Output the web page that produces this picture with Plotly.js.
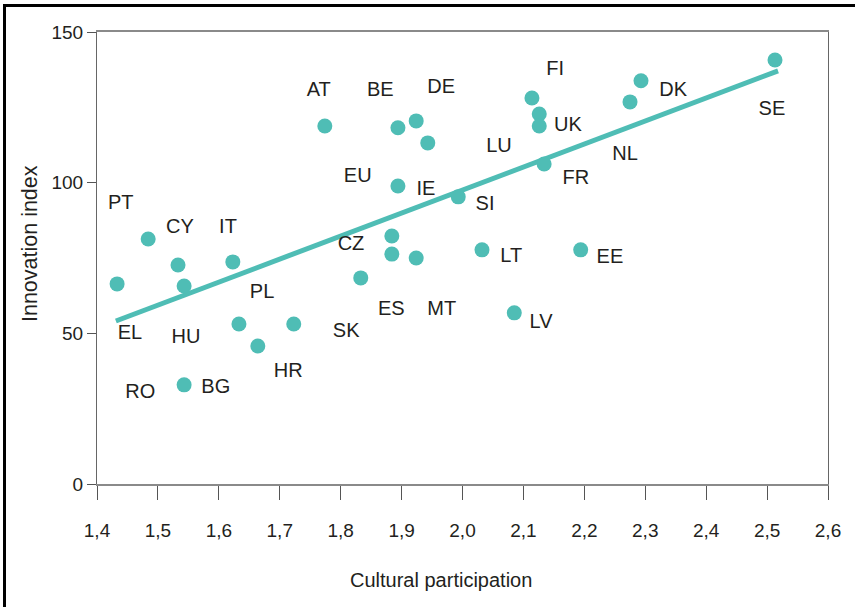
<!DOCTYPE html>
<html>
<head>
<meta charset="utf-8">
<script src="https://cdn.plot.ly/plotly-3.0.1.min.js"></script>
<style>
  html, body { margin: 0; padding: 0; background: #fff; }
  #wrap { position: relative; width: 855px; height: 607px; overflow: hidden; }
  #chart { width: 855px; height: 607px; }
  #frame { position: absolute; left: 3px; top: 4px; width: 860px; height: 610px;
           border-left: 3px solid #000; border-top: 3px solid #000; pointer-events: none; }
</style>
</head>
<body>
<div id="wrap">
  <div id="chart"></div>
  <div id="frame"></div>
</div>
<script>
// Country points (Cultural participation vs Innovation index)
const countries = ["EL","PT","CY","HU","IT","PL","HR","BG","SK","CZ","ES","MT","RO","LT","EE","LV",
                   "AT","BE","DE","LU","FI","UK","NL","FR","EU","SI","SE","DK","IE"];
const culturalParticipation = [1.433,1.484,1.533,1.543,1.623,1.633,1.664,1.543,1.723,1.833,1.884,1.884,1.924,2.032,2.194,2.085,
                               1.774,1.894,1.924,1.943,2.114,2.126,2.126,2.134,1.894,1.993,2.513,2.293,2.275];
const innovationIndex = [66.4,81.3,72.7,65.7,73.7,53.1,45.8,32.9,53.1,68.4,82.3,76.3,75.0,77.7,77.7,56.8,
                         118.8,118.2,120.5,113.2,128.1,122.8,118.8,106.2,98.9,95.3,140.7,133.8,126.8];

// Label texts and where they sit on the chart (data coordinates)
const labelText = ["AT","BE","DE","FI","DK","SE","UK","LU","NL","FR","EU","IE","SI","CZ","LT","EE",
                   "PT","CY","IT","PL","EL","HU","SK","ES","MT","LV","HR","RO","BG"];
const labelX = [1.764,1.865,1.965,2.152,2.346,2.508,2.173,2.060,2.267,2.186,1.828,1.940,2.037,1.817,2.080,2.242,
                1.439,1.536,1.615,1.671,1.454,1.546,1.809,1.883,1.966,2.129,1.714,1.471,1.595];
const labelY = [130.4,130.4,131.4,137.4,130.4,124.1,118.8,111.8,109.2,101.2,101.9,97.6,92.6,79.3,75.3,75.0,
                92.9,85.0,85.0,63.4,49.8,48.5,50.4,57.8,57.8,53.4,37.2,30.2,31.9];

// Trend line end points
const trendX = [1.431, 2.518];
const trendY = [54.1, 137.1];

// Axis ticks and titles
const xTickVals = [1.4,1.5,1.6,1.7,1.8,1.9,2.0,2.1,2.2,2.3,2.4,2.5,2.6];
const xTickText = ["1,4","1,5","1,6","1,7","1,8","1,9","2,0","2,1","2,2","2,3","2,4","2,5","2,6"];
const yTickVals = [0,50,100,150];
const xTitle = "Cultural participation";
const yTitle = "Innovation index";

const teal = "#4fbdb5";
const textColor = "#231f20";
const font = "Liberation Sans, Arial, sans-serif";

const traces = [
  {
    x: trendX, y: trendY, mode: "lines", type: "scatter",
    line: { color: teal, width: 5 }, hoverinfo: "skip", cliponaxis: false
  },
  {
    x: culturalParticipation, y: innovationIndex, text: countries,
    mode: "markers", type: "scatter",
    marker: { color: teal, size: 15, line: { width: 0 } },
    hovertemplate: "%{text}: %{x}, %{y}<extra></extra>", cliponaxis: false
  },
  {
    x: labelX, y: labelY, text: labelText, mode: "text", type: "scatter",
    textposition: "middle center",
    textfont: { family: font, size: 20, color: textColor },
    hoverinfo: "skip", cliponaxis: false
  }
];

const layout = {
  width: 855, height: 607,
  margin: { l: 97, r: 27, t: 32, b: 123 },
  paper_bgcolor: "#fff", plot_bgcolor: "#fff",
  showlegend: false,
  font: { family: font, color: textColor },
  xaxis: {
    range: [1.4, 2.6], tickmode: "array", tickvals: xTickVals, ticktext: xTickText,
    showgrid: false, zeroline: false,
    showline: true, linecolor: "#8a8a8a", linewidth: 2, mirror: true,
    ticks: "outside", ticklen: 14, tickwidth: 1, tickcolor: "#555",
    ticklabelstandoff: 14,
    tickfont: { family: font, size: 19, color: textColor }
  },
  yaxis: {
    range: [0, 150], tickmode: "array", tickvals: yTickVals,
    showgrid: false, zeroline: false,
    showline: true, linecolor: "#666", linewidth: 1, mirror: true,
    ticks: "outside", ticklen: 9, tickwidth: 1, tickcolor: "#555",
    tickfont: { family: font, size: 19, color: textColor }
  },
  annotations: [
    { text: xTitle, xref: "paper", yref: "paper", x: 0.4706, y: -0.2124,
      xanchor: "center", yanchor: "middle", showarrow: false,
      font: { family: font, size: 20, color: textColor } },
    { text: yTitle, xref: "paper", yref: "paper", x: -0.0917, y: 0.533,
      xanchor: "center", yanchor: "middle", showarrow: false, textangle: -90,
      font: { family: font, size: 21.5, color: textColor } }
  ]
};

Plotly.newPlot("chart", traces, layout, { displayModeBar: false, staticPlot: true });
</script>
</body>
</html>
